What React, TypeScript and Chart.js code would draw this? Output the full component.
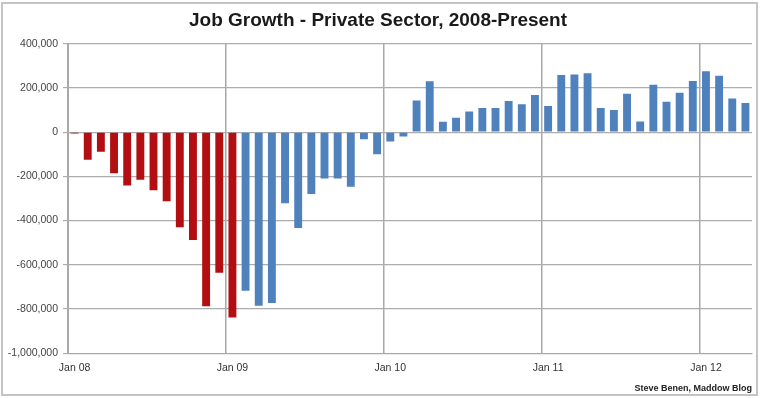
import React, { useEffect, useRef } from "react";
import { Chart, registerables } from "chart.js";

Chart.register(...registerables);

const categories = [
  "Jan 08", "Feb 08", "Mar 08", "Apr 08", "May 08", "Jun 08", "Jul 08", "Aug 08", "Sep 08", "Oct 08", "Nov 08", "Dec 08",
  "Jan 09", "Feb 09", "Mar 09", "Apr 09", "May 09", "Jun 09", "Jul 09", "Aug 09", "Sep 09", "Oct 09", "Nov 09", "Dec 09",
  "Jan 10", "Feb 10", "Mar 10", "Apr 10", "May 10", "Jun 10", "Jul 10", "Aug 10", "Sep 10", "Oct 10", "Nov 10", "Dec 10",
  "Jan 11", "Feb 11", "Mar 11", "Apr 11", "May 11", "Jun 11", "Jul 11", "Aug 11", "Sep 11", "Oct 11", "Nov 11", "Dec 11",
  "Jan 12", "Feb 12", "Mar 12", "Apr 12",
];

// Jan 2008 - Jan 2009 (red)
const bushEraValues = [
  -6000, -125000, -88000, -186000, -241000, -215000, -263000, -312000, -430000, -488000, -788000, -636000, -839000,
];

// Feb 2009 - Apr 2012 (blue)
const obamaEraValues = [
  -717000, -785000, -773000, -321000, -433000, -280000, -209000, -209000, -247000, -32000, -100000,
  -42000, -20000, 144000, 230000, 47000, 65000, 94000, 109000, 109000, 141000, 126000, 168000,
  118000, 259000, 261000, 267000, 109000, 100000, 174000, 48000, 215000, 138000, 179000, 232000,
  276000, 255000, 153000, 132000,
];

const yTicks = [400000, 200000, 0, -200000, -400000, -600000, -800000, -1000000];

const TITLE = "Job Growth - Private Sector, 2008-Present";
const CREDIT = "Steve Benen, Maddow Blog";

const RED = "#B30F12";
const BLUE = "#4F81BD";
const FONT = "'Liberation Sans', Arial, Helvetica, sans-serif";

const framePlugin = {
  id: "frame",
  beforeDraw(chart: any) {
    const { ctx, width, height } = chart;
    ctx.save();
    ctx.fillStyle = "#ffffff";
    ctx.fillRect(0, 0, width, height);
    ctx.strokeStyle = "#C4C4C4";
    ctx.lineWidth = 2;
    ctx.strokeRect(2, 3, width - 5, height - 6);
    ctx.restore();
  },
};

export default function App() {
  const ref = useRef<HTMLCanvasElement>(null);

  useEffect(() => {
    if (!ref.current) return;
    const values = [...bushEraValues, ...obamaEraValues];
    const colors = values.map((_, i) => (i < bushEraValues.length ? RED : BLUE));
    const chart = new Chart(ref.current, {
      type: "bar",
      data: {
        labels: categories,
        datasets: [
          {
            data: values,
            backgroundColor: colors,
            borderWidth: 0,
            barPercentage: 0.6,
            categoryPercentage: 1,
          },
        ],
      },
      options: {
        animation: false,
        responsive: false,
        devicePixelRatio: 1,
        layout: { padding: { left: 4, right: 8, top: 0, bottom: 4 } },
        plugins: {
          legend: { display: false },
          tooltip: { enabled: false },
          title: {
            display: true,
            text: TITLE,
            color: "#1a1a1a",
            font: { family: FONT, size: 19, weight: "bold" },
            padding: { top: 9, bottom: 12 },
          },
          subtitle: {
            display: true,
            position: "bottom",
            align: "end",
            text: CREDIT,
            color: "#222",
            font: { family: FONT, size: 9, weight: "bold" },
            padding: { top: 0, bottom: 0 },
          },
        },
        scales: {
          x: {
            type: "category",
            offset: true,
            afterFit: (scale: any) => {
              scale.height = 30;
            },
            grid: {
              offset: true,
              drawTicks: false,
              color: (c: any) => (c.index % 12 === 0 ? "#A8A8A8" : "rgba(0,0,0,0)"),
              lineWidth: 1.5,
            },
            border: { display: true, color: "#A8A8A8" },
            ticks: {
              autoSkip: false,
              maxRotation: 0,
              minRotation: 0,
              padding: 9,
              color: "#333",
              font: { family: FONT, size: 10.5 },
              callback: (_v: any, i: number) => (i % 12 === 0 ? categories[i] : ""),
            },
          },
          y: {
            min: yTicks[yTicks.length - 1],
            max: yTicks[0],
            afterFit: (scale: any) => {
              scale.width = 64;
            },
            afterBuildTicks: (scale: any) => {
              scale.ticks = yTicks.map((v) => ({ value: v }));
            },
            grid: {
              color: "#ADADAD",
              lineWidth: 1.2,
              tickLength: 5,
              drawTicks: true,
            },
            border: { display: true, color: "#A8A8A8" },
            ticks: {
              padding: 5,
              color: "#444",
              font: { family: FONT, size: 10.5 },
              callback: (v: any) => Number(v).toLocaleString("en-US"),
            },
          },
        },
      },
      plugins: [framePlugin],
    });
    return () => chart.destroy();
  }, []);

  return (
    <div style={{ position: "absolute", left: 0, top: 0, width: 760, height: 398 }}>
      <canvas ref={ref} width={760} height={398} style={{ display: "block" }} />
    </div>
  );
}
